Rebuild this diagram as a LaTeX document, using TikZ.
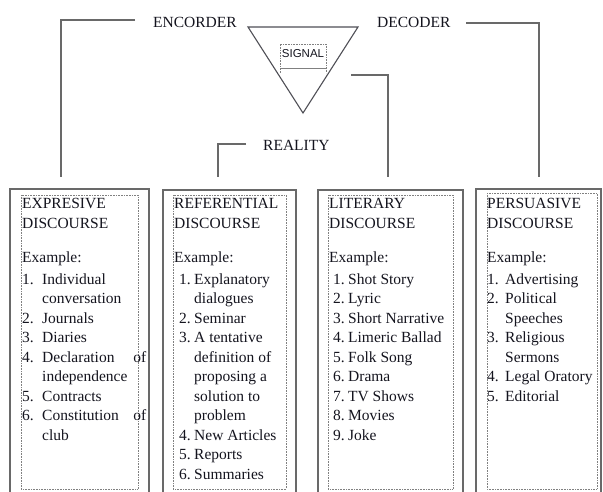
\documentclass[tikz,border=0pt]{standalone}
\usepackage{fontspec}
\setmainfont{Liberation Serif}
\newfontfamily\sigfont{Liberation Sans}
\definecolor{ink}{RGB}{20,20,30}
\definecolor{linegray}{RGB}{105,105,105}
\begin{document}
\begin{tikzpicture}[x=1pt,y=-1pt,
  txt/.style={inner sep=0pt, anchor=base west, text=ink, font=\fontsize{15.5}{19.5}\selectfont},
  conn/.style={draw=linegray, line width=1.5pt},
  outerbox/.style={draw=linegray, line width=1.5pt},
  innerbox/.style={draw=gray, densely dotted, line width=0.6pt},
  tri/.style={draw=ink!75, line width=1.1pt, line join=miter}]
\useasboundingbox (0,0) rectangle (603,491);
\clip (0,0) rectangle (603,491);

% top labels
\node[txt] (enc) at (153,27) {ENCORDER};
\node[txt] (dec) at (377,27) {DECODER};
\node[txt] (real) at (263,150) {REALITY};

% signal triangle
\draw[tri] (248,27) -- (358,27) -- (303,113) -- cycle;
\node[inner sep=0pt, anchor=base, text=ink, font=\sigfont\fontsize{11.5}{12}\selectfont] (sig) at (303,57) {SIGNAL};
\draw[innerbox] (280,73) -- (280,44) -- (326,44) -- (326,73);
\draw[draw=gray, line width=0.9pt] (280,68.5) -- (326,68.5);

% connector end points
\coordinate (encend) at (135,20);
\coordinate (b1t) at (61,177);
\coordinate (decend) at (466,23);
\coordinate (b4t) at (539,177);
\coordinate (realend) at (246,144);
\coordinate (b2t) at (218,177);
\coordinate (sigend) at (351,75);
\coordinate (b3t) at (388,177);
\draw[conn] (encend) -| (b1t);
\draw[conn] (decend) -| (b4t);
\draw[conn] (realend) -| (b2t);
\draw[conn] (sigend) -| (b3t);

% boxes
\draw[outerbox] (10,510) -- (10,189) -- (149,189) -- (149,510);
\draw[innerbox] (21,195) rectangle (138,489);
\draw[outerbox] (163,510) -- (163,190) -- (296,190) -- (296,510);
\draw[innerbox] (173,195) rectangle (286,489);
\draw[outerbox] (318,510) -- (318,190) -- (463,190) -- (463,510);
\draw[innerbox] (328,195) rectangle (453,489);
\draw[outerbox] (476,510) -- (476,189) -- (601,189) -- (601,510);
\draw[innerbox] (487,193) rectangle (597,489);

% box 1
\node[txt] (b1h1) at (22,208) {EXPRESIVE};
\node[txt] (b1h2) at (22,228) {DISCOURSE};
\node[txt] (b1ex) at (22,262) {Example:};
\foreach \n/\t [count=\i] in {1./Individual, /conversation, 2./Journals, 3./Diaries,
  4./{\makebox[104pt][l]{Declaration\hfill of}}, /independence, 5./Contracts,
  6./{\makebox[104pt][l]{Constitution\hfill of}}, /club}{
  \node[txt] (b1n\i) at (22,{284+(\i-1)*19.5}) {\n};
  \node[txt] (b1t\i) at (42,{284+(\i-1)*19.5}) {\t};
}

% box 2
\node[txt] (b2h1) at (174,208) {REFERENTIAL};
\node[txt] (b2h2) at (174,228) {DISCOURSE};
\node[txt] (b2ex) at (174,262) {Example:};
\foreach \n/\t [count=\i] in {1./Explanatory, /dialogues, 2./Seminar, 3./A tentative,
  /definition of, /proposing a, /solution to, /problem, 4./New Articles,
  5./Reports, 6./Summaries}{
  \node[txt] (b2n\i) at (179,{284+(\i-1)*19.5}) {\n};
  \node[txt] (b2t\i) at (194,{284+(\i-1)*19.5}) {\t};
}

% box 3
\node[txt] (b3h1) at (329,208) {LITERARY};
\node[txt] (b3h2) at (329,228) {DISCOURSE};
\node[txt] (b3ex) at (329,262) {Example:};
\foreach \n/\t [count=\i] in {1./Shot Story, 2./Lyric, 3./Short Narrative,
  4./Limeric Ballad, 5./Folk Song, 6./Drama, 7./TV Shows, 8./Movies, 9./Joke}{
  \node[txt] (b3n\i) at (333,{284+(\i-1)*19.5}) {\n};
  \node[txt] (b3t\i) at (348,{284+(\i-1)*19.5}) {\t};
}

% box 4
\node[txt] (b4h1) at (487,208) {PERSUASIVE};
\node[txt] (b4h2) at (487,228) {DISCOURSE};
\node[txt] (b4ex) at (487,262) {Example:};
\foreach \n/\t [count=\i] in {1./Advertising, 2./Political, /Speeches, 3./Religious,
  /Sermons, 4./Legal Oratory, 5./Editorial}{
  \node[txt] (b4n\i) at (487,{284+(\i-1)*19.5}) {\n};
  \node[txt] (b4t\i) at (505,{284+(\i-1)*19.5}) {\t};
}
\end{tikzpicture}
\end{document}
